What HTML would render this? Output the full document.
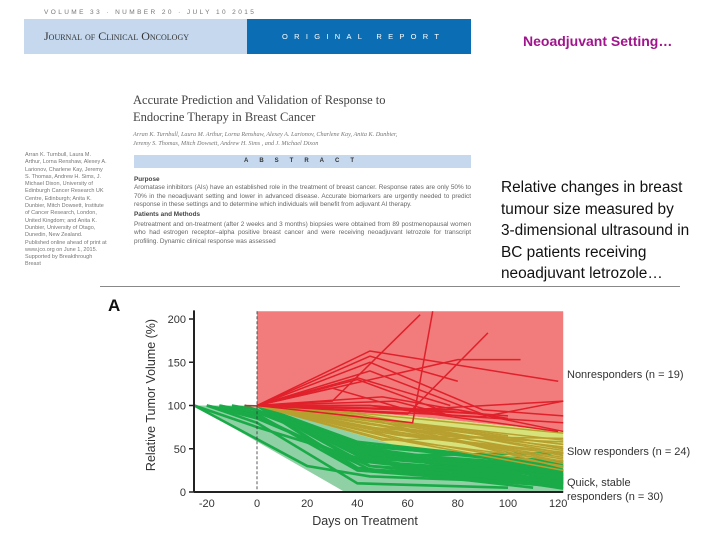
<!DOCTYPE html>
<html><head><meta charset="utf-8"><style>
body{margin:0;width:720px;height:540px;background:#fff;position:relative;overflow:hidden;font-family:"Liberation Sans",sans-serif}
.abs{position:absolute}
.small{font-size:5.5px;color:#777;line-height:7.3px}
.rt{font-size:15.4px;color:#111;line-height:21.6px;white-space:nowrap}
</style></head><body>
<div class="abs" style="left:44px;top:9px;font-size:6.5px;color:#777;letter-spacing:2.4px">VOLUME 33 · NUMBER 20 · JULY 10 2015</div>
<div class="abs" style="left:24px;top:19px;width:223px;height:35px;background:#c5d8ee"></div>
<div class="abs" style="left:44px;top:29px;font-family:'Liberation Serif',serif;font-size:12px;color:#333;font-variant:small-caps">Journal of Clinical Oncology</div>
<div class="abs" style="left:247px;top:19px;width:224px;height:35px;background:#0b6eb5;color:#fff;font-size:7.5px;letter-spacing:6.3px;line-height:35px;text-indent:35px;box-sizing:border-box">ORIGINAL REPORT</div>
<div class="abs" style="left:133px;top:92px;font-family:'Liberation Serif',serif;font-size:12.5px;color:#444;line-height:16.5px">Accurate Prediction and Validation of Response to<br>Endocrine Therapy in Breast Cancer</div>
<div class="abs" style="left:133px;top:131px;font-family:'Liberation Serif',serif;font-style:italic;font-size:6.2px;color:#777;line-height:8.5px">Arran K. Turnbull, Laura M. Arthur, Lorna Renshaw, Alexey A. Larionov, Charlene Kay, Anita K. Dunbier,<br>Jeremy S. Thomas, Mitch Dowsett, Andrew H. Sims , and J. Michael Dixon</div>
<div class="abs" style="left:134px;top:155px;width:337px;height:13px;background:#c5d8ee;font-size:6px;font-weight:bold;letter-spacing:11px;line-height:13px;text-indent:110px;color:#333">ABSTRACT</div>
<div class="abs small" style="left:25px;top:152px;width:82px">Arran K. Turnbull, Laura M. Arthur, Lorna Renshaw, Alexey A. Larionov, Charlene Kay, Jeremy S. Thomas, Andrew H. Sims, J. Michael Dixon, University of Edinburgh Cancer Research UK Centre, Edinburgh; Anita K. Dunbier, Mitch Dowsett, Institute of Cancer Research, London, United Kingdom; and Anita K. Dunbier, University of Otago, Dunedin, New Zealand.<br>Published online ahead of print at www.jco.org on June 1, 2015.<br>Supported by Breakthrough Breast</div>
<div class="abs" style="left:134px;top:176px;width:337px;font-size:6.4px;color:#666;line-height:8.3px;text-align:justify"><b style="color:#444">Purpose</b><br>Aromatase inhibitors (AIs) have an established role in the treatment of breast cancer. Response rates are only 50% to 70% in the neoadjuvant setting and lower in advanced disease. Accurate biomarkers are urgently needed to predict response in these settings and to determine which individuals will benefit from adjuvant AI therapy.<br><b style="color:#444;line-height:12px">Patients and Methods</b><br>Pretreatment and on-treatment (after 2 weeks and 3 months) biopsies were obtained from 89 postmenopausal women who had estrogen receptor–alpha positive breast cancer and were receiving neoadjuvant letrozole for transcript profiling. Dynamic clinical response was assessed</div>
<div class="abs" style="left:523px;top:33px;font-size:14px;font-weight:bold;color:#a0148c">Neoadjuvant Setting…</div>
<div class="abs rt" style="left:501px;top:177px">Relative changes in breast<br>tumour size measured by<br>3-dimensional ultrasound in<br>BC patients receiving<br>neoadjuvant letrozole…</div>
<div class="abs" style="left:100px;top:286px;width:580px;height:1px;background:#888"></div>
<svg class="abs" style="left:0;top:0" width="720" height="540" id="chart"></svg>
<script>
const xTicks=[-20,0,20,40,60,80,100,120];
const yTicks=[0,50,100,150,200];
const redDays=[[0,45,120],[0,45,80],[0,80,105],[0,45,90],[-5,60,122],[0,30,60,90],[0,80,122],[0,40,77],[0,30,65],[0,60,80,122],[0,45,100],[0,62,70],[0,60,92],[0,50,100],[0,40,72],[0,45,90,122],[0,55,75],[0,90,122],[0,45,120]];
const redVals=[[100,163,128],[100,157,128],[100,153,153],[100,140,90],[100,95,105],[100,120,95,90],[100,95,70],[100,132,100],[100,105,205],[100,95,88,80],[100,100,88],[100,80,210],[100,90,184],[100,110,85],[100,130,96],[100,150,95,88],[100,105,90],[100,87,105],[100,100,70]];
const yelDays=[[0,45,122],[0,45,122],[0,50,122],[0,60,122],[0,45,90,122],[0,40,122],[0,55,122],[0,60,122],[0,45,122],[0,50,94],[0,60,122],[0,45,122],[0,70,122],[0,40,122],[0,60,100],[0,45,122],[0,50,122],[0,55,122],[0,60,122],[0,45,122],[0,50,122],[0,40,122],[0,60,122],[0,45,122]];
const yelVals=[[100,90,68],[100,85,60],[100,80,55],[100,80,50],[100,75,62,58],[100,88,45],[100,70,40],[100,65,62],[100,78,52],[100,60,63],[100,72,35],[100,82,48],[100,68,42],[100,86,55],[100,80,65],[100,74,38],[100,76,33],[100,66,44],[100,60,30],[100,84,28],[100,62,36],[100,90,50],[100,58,25],[100,70,46]];
const grnDays=[[-25,0,45,122],[-20,0,45,122],[-15,0,40,122],[-10,0,45,122],[-25,20,45,122],[-20,0,40,100],[-5,40,122],[0,45,122],[0,40,122],[0,45,122],[0,50,122],[0,45,122],[0,40,110],[-15,0,45,122],[0,45,122],[0,40,122],[0,50,122],[0,45,122],[0,45,122],[0,40,122],[0,55,122],[0,45,122],[-20,0,45,122],[0,45,122],[0,40,122],[0,45,122],[0,45,122],[0,50,122],[0,40,122],[0,45,122]];
const grnVals=[[100,75,35,20],[100,85,30,15],[100,90,25,10],[100,95,40,25],[100,30,18,10],[100,80,10,5],[100,50,15],[100,40,20],[100,45,12],[100,35,18],[100,38,22],[100,30,8],[100,28,5],[100,92,42,45],[100,48,25],[100,55,30],[100,33,14],[100,42,28],[100,50,20],[100,36,10],[100,30,12],[100,44,16],[100,88,26,12],[100,52,35],[100,25,6],[100,40,24],[100,46,30],[100,34,18],[100,58,32],[100,38,4]];
const NS='http://www.w3.org/2000/svg';
const svg=document.getElementById('chart');
function X(d){return 257+d*2.51;}
function Y(v){return 492-v*0.865;}
function mk(t,a){const e=document.createElementNS(NS,t);for(const k in a)e.setAttribute(k,a[k]);svg.appendChild(e);return e;}
function pts(arr){return arr.map(p=>X(p[0])+','+Y(p[1])).join(' ');}
let e;
e=mk('polygon',{points:pts([[0,209],[122,209],[122,70],[60,88],[0,100]]),fill:'#f27b7b'});

e=mk('polygon',{points:pts([[0,100],[60,88],[122,70],[122,0],[110,0],[0,100]]),fill:'#d7e27a'});

e=mk('polygon',{points:pts([[-25,100],[0,100],[60,50],[122,25],[122,0],[35,0]]),fill:'#8fd0a4'});

function draw(days,vals,color,w,name){for(let i=0;i<days.length;i++){const p=days[i].map((d,j)=>[d,Math.max(0,Math.min(209,vals[i][j]))]);const l=mk('polyline',{points:pts(p),fill:'none',stroke:color,'stroke-width':w});

}}
draw(grnDays,grnVals,'#1aaa48',2.6,'quick-responder-line');
draw(yelDays,yelVals,'#b8a030',1.5,'slow-responder-line');
draw(redDays,redVals,'#e0202a',1.5,'nonresponder-line');
e=mk('line',{x1:X(0),y1:Y(209),x2:X(0),y2:Y(0),stroke:'#333','stroke-dasharray':'3,2','stroke-width':0.8});

e=mk('line',{x1:194,y1:Y(0),x2:X(122),y2:Y(0),stroke:'#222','stroke-width':2});

e=mk('line',{x1:194,y1:Y(0),x2:194,y2:Y(210),stroke:'#222','stroke-width':2});

xTicks.forEach(t=>{const tl=mk('text',{x:X(t),y:507,'font-size':11,'text-anchor':'middle',fill:'#333','font-family':'Liberation Sans'});tl.textContent=t;
});
yTicks.forEach(t=>{mk('line',{x1:189,y1:Y(t),x2:194,y2:Y(t),stroke:'#222','stroke-width':1.5});const tl=mk('text',{x:186,y:Y(t)+4,'font-size':11,'text-anchor':'end',fill:'#333','font-family':'Liberation Sans'});tl.textContent=t;
});
function txt(x,y,s,n,extra){const t=mk('text',Object.assign({x:x,y:y,'font-size':11,fill:'#333','font-family':'Liberation Sans'},extra||{}));t.textContent=s;

return t;}
txt(365,525,'Days on Treatment','x-axis-title',{'text-anchor':'middle','font-size':12.5});
txt(155,395,'Relative Tumor Volume (%)','y-axis-title',{'text-anchor':'middle','font-size':12.5,transform:'rotate(-90 155 395)'});
txt(108,311,'A','panel-label',{'font-size':17,'font-weight':'bold',fill:'#111'});
txt(567,378,'Nonresponders (n = 19)','nonresponders-label');
txt(567,455,'Slow responders (n = 24)','slow-responders-label');
txt(567,486,'Quick, stable','quick-responders-label');
txt(567,500,'responders (n = 30)','quick-responders-label-2');
</script>
</body></html>
